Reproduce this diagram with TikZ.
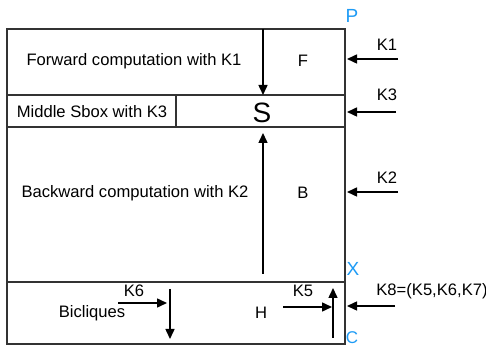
\documentclass[tikz,border=0pt]{standalone}
\usepackage{fontspec}
\setmainfont{Liberation Sans}
\usetikzlibrary{arrows.meta,positioning}
\definecolor{pinblue}{HTML}{1E9BF5}
\definecolor{edgegray}{HTML}{333333}
\tikzset{
  % thin frame of the layers, thicker black arrows
  cell/.style = {draw=edgegray, line width=0.6pt},
  arr/.style  = {-{Triangle[length=5pt,width=4.5pt]}, line width=0.75pt, black},
  txt/.style  = {font=\fontsize{8.3}{10}\selectfont, inner sep=0pt},
  big/.style  = {font=\fontsize{14}{16}\selectfont, inner sep=0pt},
  pin/.style  = {font=\fontsize{9.5}{11}\selectfont, text=pinblue, inner sep=0pt},
}

\begin{document}
\begin{tikzpicture}[x=0.5pt,y=-0.5pt]
\useasboundingbox (0,0) rectangle (486,346);
% --- the layers --------------------------------------------------------
\draw[cell] (7,29) rectangle (345,344);
\draw[cell] (7,95) -- (345,95);
\draw[cell] (7,127) -- (345,127);
\draw[cell] (7,282) -- (345,282);
\draw[cell] (176,95) -- (176,127);
% --- texts in the layers -----------------------------------------------
\node[txt] (fwd)  at (134,61)  {Forward computation with K1};
\node[txt] (fnm)  at (303,61)  {F};
\node[txt] (mid)  at (92,112)  {Middle Sbox with K3};
\node[big] (snm)  at (262,113) {S};
\node[txt] (bwd)  at (135,193) {Backward computation with K2};
\node[txt] (bnm)  at (303,193) {B};
\node[txt] (bic)  at (92,313)  {Bicliques};
\node[txt] (hnm)  at (261,313) {H};
% --- state labels ------------------------------------------------------
\node[pin] (p) at (352,16)  {P};
\node[pin] (x) at (353,269) {X};
\node[pin, font=\fontsize{8.5}{10}\selectfont] (c) at (352,338) {C};
% --- inner arrows ------------------------------------------------------
\coordinate (ftop) at (263,29);
\coordinate (fbot) at (263,95);
\draw[arr] (ftop) -- (fbot);
\coordinate (blow) at (263,274);
\coordinate (bup)  at (263,133);
\draw[arr] (blow) -- (bup);
% --- key arrows from the right -----------------------------------------
\coordinate (k1a) at (398,59);  \coordinate (k1b) at (347,59);
\draw[arr] (k1a) -- (k1b);
\node[txt] (k1) at (387,45) {K1};
\coordinate (k3a) at (396,112); \coordinate (k3b) at (347,112);
\draw[arr] (k3a) -- (k3b);
\node[txt] (k3) at (387,95) {K3};
\coordinate (k2a) at (398,192); \coordinate (k2b) at (347,192);
\draw[arr] (k2a) -- (k2b);
\node[txt] (k2) at (387,178) {K2};
\coordinate (k8a) at (395,306); \coordinate (k8b) at (347,306);
\draw[arr] (k8a) -- (k8b);
\node[txt] (k8) at (432,291) {K8=(K5,K6,K7)};
% --- biclique row ------------------------------------------------------
\coordinate (k6a) at (118,303); \coordinate (k6b) at (167,303);
\draw[arr] (k6a) -- (k6b);
\node[txt] (k6) at (134,291) {K6};
\coordinate (dtop) at (170,289); \coordinate (dbot) at (170,339);
\draw[arr] (dtop) -- (dbot);
\coordinate (k5a) at (283,307); \coordinate (k5b) at (332,307);
\draw[arr] (k5a) -- (k5b);
\node[txt] (k5) at (303,291) {K5};
\coordinate (ulow) at (333,338); \coordinate (uup) at (333,288);
\draw[arr] (ulow) -- (uup);
\end{tikzpicture}
\end{document}
